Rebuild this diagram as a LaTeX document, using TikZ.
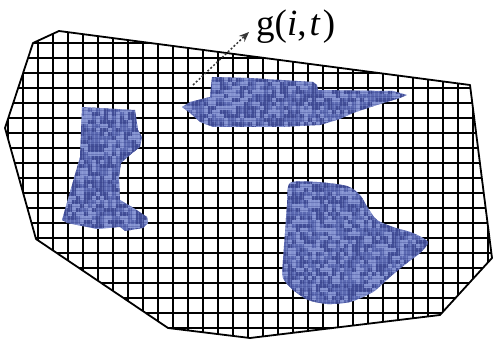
\documentclass[tikz,border=0pt]{standalone}
\usepackage{fontspec}
\setmainfont{Liberation Serif}
\usetikzlibrary{arrows.meta}
\definecolor{blobbase}{RGB}{92,106,178}
\definecolor{bloblight}{RGB}{160,174,228}
\definecolor{blobdark}{RGB}{48,58,132}
\definecolor{arrowgray}{RGB}{55,55,55}
\def\outlinepath{(59,31) -- (33,43) -- (5,128) -- (36,239) -- (168,328) -- (250,338) -- (440,315) -- (492,258) -- (470,85) -- cycle}
\def\blobleft{(82,107) -- (135,110) -- (138,130) -- (142,137) -- (140,147) -- (130,155) -- (121,163) -- (119,177) -- (120,200) -- (132,207) -- (147,217) -- (148,223) -- (143,228) -- (125,231) -- (120,227) -- (97,229) -- (67,223) -- (62,220) -- (72,185) -- (80,157) -- cycle}
\def\blobtop{(182,107) -- (190,102) -- (210,97) -- (212,77) -- (250,78) -- (313,82) -- (317,85) -- (318,90) -- (393,91) -- (407,95) -- (400,98) -- (377,105) -- (353,113) -- (340,119) -- (320,125) -- (280,127) -- (237,127) -- (213,127) -- (200,122) -- (190,113) -- cycle}
\def\blobright{plot[smooth cycle, tension=0.45] coordinates {(290,183) (317,182) (347,186) (360,195) (368,208) (377,220) (393,227) (413,233) (428,242) (420,253) (407,263) (390,277) (373,292) (350,302) (327,304) (308,300) (293,290) (283,278) (283,260) (285,233) (287,205)}}
% #1 path, #2 x-list, #3 y-list
\newcommand\texblob[3]{%
  \fill[blobbase] #1;
  \begin{scope}
    \clip #1;
    \foreach \xx in {#2} {
      \foreach \yy in {#3} {
        \pgfmathsetmacro\rr{rnd}
        \ifdim\rr pt<0.36pt
          \fill[blobdark, opacity=0.55] (\xx,\yy) rectangle ++(4,4);
        \else\ifdim\rr pt>0.68pt
          \fill[bloblight, opacity=0.6] (\xx,\yy) rectangle ++(4,4);
        \fi\fi
      }
    }
    \foreach \xx in {#2} {
      \draw[bloblight, line width=0.7pt, opacity=0.35] (\xx+2,0) -- (\xx+2,339);
    }
    \foreach \yy in {#3} {
      \draw[blobdark, line width=0.7pt, opacity=0.3] (0,\yy+2) -- (493,\yy+2);
    }
  \end{scope}}
\tikzset{
  gridline/.style={black, line width=1.75pt},
  outline/.style={black, line width=1.8pt, line join=round},
  pointer/.style={arrowgray, line width=1.5pt, dash pattern=on 2pt off 2pt, -{Stealth[length=10pt, width=8pt]}},
}
\begin{document}
\begin{tikzpicture}[x=1pt, y=-1pt]
  \pgfmathsetseed{12}
  \useasboundingbox (0,0) rectangle (493,339);
  \begin{scope}
    \clip \outlinepath;
    \foreach \k in {0,...,33} {
      \draw[gridline] (8.3+15*\k,0) -- (8.3+15*\k,339);
    }
    \foreach \k in {0,...,22} {
      \draw[gridline] (0,13.3+15*\k) -- (493,13.3+15*\k);
    }
  \end{scope}
  \draw[outline] \outlinepath;
  \texblob{\blobleft}{60,64,...,152}{104,108,...,234}
  \texblob{\blobtop}{180,184,...,410}{74,78,...,130}
  \texblob{\blobright}{280,284,...,432}{180,184,...,306}
  \coordinate (start) at (193,85);
  \coordinate (tip) at (249,32);
  \node[anchor=base west, inner sep=0pt, font=\fontsize{37}{40}\selectfont] (lbl) at (256,36) {g(\textit{i},\hspace{0.08em}\textit{t}\hspace{0.06em})};
  \draw[pointer] (start) -- (tip);
\end{tikzpicture}
\end{document}
